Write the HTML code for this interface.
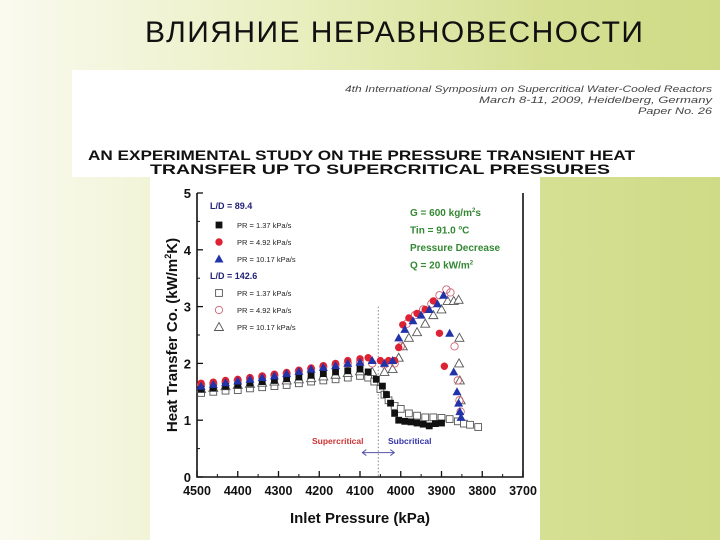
<!DOCTYPE html>
<html><head><meta charset="utf-8">
<style>
body{margin:0;width:720px;height:540px;overflow:hidden;position:relative;font-family:"Liberation Sans",sans-serif;background:linear-gradient(90deg,#fafaf0 0%,#e9efc0 40%,#d6e094 75%,#cfdb86 100%);}
#title{position:absolute;left:145px;top:16px;font-size:30px;color:#111;letter-spacing:1.45px;}
#hdr{position:absolute;left:72px;top:70px;width:648px;height:107px;background:#fff;}
#chartbox{position:absolute;left:150px;top:177px;width:390px;height:363px;background:#fff;}
</style></head><body>
<div id="title">ВЛИЯНИЕ НЕРАВНОВЕСНОСТИ</div>
<div id="hdr"></div>
<svg width="720" height="180" style="position:absolute;left:0;top:0" font-family="Liberation Sans, sans-serif">
<text x="712" y="92" text-anchor="end" font-size="9.5" font-style="italic" fill="#444" textLength="367" lengthAdjust="spacingAndGlyphs">4th International Symposium on Supercritical Water-Cooled Reactors</text>
<text x="712" y="103" text-anchor="end" font-size="9.5" font-style="italic" fill="#444" textLength="233" lengthAdjust="spacingAndGlyphs">March 8-11, 2009, Heidelberg, Germany</text>
<text x="712" y="114" text-anchor="end" font-size="9.5" font-style="italic" fill="#444" textLength="74" lengthAdjust="spacingAndGlyphs">Paper No. 26</text>
<text x="88" y="160" font-size="14" font-weight="bold" fill="#111" textLength="547" lengthAdjust="spacingAndGlyphs">AN EXPERIMENTAL STUDY ON THE PRESSURE TRANSIENT HEAT</text>
<text x="150" y="174" font-size="14" font-weight="bold" fill="#111" textLength="460" lengthAdjust="spacingAndGlyphs">TRANSFER UP TO SUPERCRITICAL PRESSURES</text>
</svg>
<div id="chartbox"></div>
<svg id="chart" width="720" height="540" style="position:absolute;left:0;top:0" font-family="Liberation Sans, sans-serif"></svg>
<script>
const xTicks=[4500,4400,4300,4200,4100,4000,3900,3800,3700];
const yTicks=[0,1,2,3,4,5];
const aX=[4490,4460,4430,4400,4370,4340,4310,4280,4250,4220,4190,4160,4130,4100,4080,4060,4045,4035,4025,4015,4005,3990,3975,3960,3945,3930,3915,3900];
const aY=[1.55,1.57,1.6,1.62,1.65,1.68,1.7,1.73,1.76,1.79,1.82,1.85,1.87,1.9,1.85,1.72,1.6,1.45,1.3,1.12,1.0,0.98,0.97,0.95,0.93,0.9,0.94,0.95];
const bX=[4490,4460,4430,4400,4370,4340,4310,4280,4250,4220,4190,4160,4130,4100,4080,4050,4030,4015,4005,3995,3980,3960,3940,3920,3905,3893];
const bY=[1.65,1.67,1.7,1.72,1.75,1.78,1.81,1.84,1.88,1.92,1.96,2.0,2.05,2.08,2.1,2.05,2.05,2.05,2.28,2.68,2.8,2.88,2.95,3.1,2.53,1.95];
const cX=[4490,4460,4430,4400,4370,4340,4310,4280,4250,4220,4190,4160,4130,4100,4070,4040,4020,4005,3990,3970,3950,3930,3910,3895,3880,3870,3862,3858,3855,3852];
const cY=[1.6,1.63,1.66,1.69,1.72,1.75,1.78,1.82,1.86,1.9,1.93,1.96,2.0,2.02,2.05,2.0,2.05,2.45,2.6,2.75,2.85,2.95,3.05,3.2,2.53,1.85,1.5,1.3,1.15,1.05];
const dX=[4490,4460,4430,4400,4370,4340,4310,4280,4250,4220,4190,4160,4130,4100,4080,4065,4050,4040,4030,4015,4000,3980,3960,3940,3920,3900,3880,3860,3845,3830,3810];
const dY=[1.48,1.5,1.52,1.53,1.56,1.58,1.6,1.62,1.65,1.68,1.7,1.72,1.75,1.78,1.75,1.68,1.55,1.45,1.35,1.25,1.2,1.12,1.08,1.05,1.05,1.04,1.02,0.98,0.94,0.92,0.88];
const eX=[4490,4460,4430,4400,4370,4340,4310,4280,4250,4220,4190,4160,4130,4100,4070,4040,4015,4000,3985,3965,3945,3925,3905,3888,3878,3868,3860,3856,3853];
const eY=[1.62,1.64,1.67,1.7,1.73,1.76,1.79,1.82,1.86,1.9,1.94,1.97,2.0,2.02,2.0,1.98,2.0,2.3,2.7,2.85,2.95,3.05,3.2,3.3,3.25,2.3,1.7,1.35,1.15];
const fX=[4490,4460,4430,4400,4370,4340,4310,4280,4250,4220,4190,4160,4130,4100,4070,4040,4020,4005,3995,3980,3960,3940,3920,3900,3885,3870,3858,3856,3857,3855,3853];
const fY=[1.55,1.57,1.6,1.62,1.64,1.66,1.68,1.7,1.72,1.74,1.77,1.8,1.83,1.86,1.85,1.85,1.9,2.1,2.3,2.45,2.55,2.7,2.85,2.95,3.1,3.1,3.12,2.45,2.0,1.7,1.35];
const svg=document.getElementById('chart');
const NS='http://www.w3.org/2000/svg';
const L=197,R=523,T=193,B=477;
const sx=v=>L+(4500-v)/800*(R-L);
const sy=v=>B-v/5*(B-T);
function mk(t,a,p){const e=document.createElementNS(NS,t);for(const k in a)e.setAttribute(k,a[k]);(p||svg).appendChild(e);return e;}
let ax=mk('path',{d:`M${L},${T}V${B}H${R}V${T}`,fill:'none',stroke:'#111','stroke-width':1.6});


xTicks.forEach(v=>{
 let t=mk('line',{x1:sx(v),x2:sx(v),y1:B,y2:B-6,stroke:'#111','stroke-width':1.3});
 
 
 if(v!==3700)mk('line',{x1:sx(v-50),x2:sx(v-50),y1:B,y2:B-3,stroke:'#111'});
 let l=mk('text',{x:sx(v),y:B+18,'text-anchor':'middle','font-size':12.5,'font-weight':'bold',fill:'#111'});
 l.textContent=v;
 
 
});
yTicks.forEach(v=>{
 let t=mk('line',{x1:L,x2:L+6,y1:sy(v),y2:sy(v),stroke:'#111','stroke-width':1.3});
 
 
 if(v<5)mk('line',{x1:L,x2:L+3,y1:sy(v+0.5),y2:sy(v+0.5),stroke:'#111'});
 let l=mk('text',{x:L-6,y:sy(v)+5,'text-anchor':'end','font-size':13,'font-weight':'bold',fill:'#111'});
 l.textContent=v;
 
 
});
let xt=mk('text',{x:360,y:523,'text-anchor':'middle','font-size':15,'font-weight':'bold',fill:'#111'});
xt.textContent='Inlet Pressure (kPa)';


let yt=mk('text',{x:0,y:0,'text-anchor':'middle','font-size':15,'font-weight':'bold',fill:'#111',transform:`translate(177,335) rotate(-90)`});
yt.innerHTML='Heat Transfer Co. (kW/m<tspan font-size="9" dy="-6">2</tspan><tspan dy="6">K)</tspan>';


let dl=mk('line',{x1:sx(4055),x2:sx(4055),y1:sy(3.0),y2:B,stroke:'#999','stroke-dasharray':'1.5,2','stroke-width':1.2});


let ar=mk('path',{d:`M${sx(4055)-16},${sy(0.43)}H${sx(4055)+16}M${sx(4055)-12},${sy(0.43)-3}l-4,3l4,3M${sx(4055)+12},${sy(0.43)-3}l4,3l-4,3`,stroke:'#5555aa',fill:'none'});


[['Supercritical',312,'#cc3333','supercritical-label'],['Subcritical',388,'#3333aa','subcritical-label']].forEach(s=>{let t=mk('text',{x:s[1],y:444,'font-size':8.5,'font-weight':'bold',fill:s[2]});t.textContent=s[0];

});
function marker(type,x,y,p){
 const s=3.4;
 if(type==='sq')return mk('rect',{x:x-s,y:y-s,width:2*s,height:2*s,fill:'#111'},p);
 if(type==='osq')return mk('rect',{x:x-s,y:y-s,width:2*s,height:2*s,fill:'#fff',stroke:'#555','stroke-width':0.9},p);
 if(type==='ci')return mk('circle',{cx:x,cy:y,r:3.7,fill:'#dd2233'},p);
 if(type==='oci')return mk('circle',{cx:x,cy:y,r:3.7,fill:'none',stroke:'#cc6677','stroke-width':0.9},p);
 if(type==='tr')return mk('path',{d:`M${x},${y-4.5}L${x+4.5},${y+3.5}H${x-4.5}Z`,fill:'#2233aa'},p);
 return mk('path',{d:`M${x},${y-4.5}L${x+4.5},${y+3.5}H${x-4.5}Z`,fill:'#fff',stroke:'#555','stroke-width':0.9},p);
}
const series=[['osq',dX,dY,'series-ld142-pr137'],['otr',fX,fY,'series-ld142-pr1017'],['oci',eX,eY,'series-ld142-pr492'],['sq',aX,aY,'series-ld89-pr137'],['ci',bX,bY,'series-ld89-pr492'],['tr',cX,cY,'series-ld89-pr1017']];
series.forEach(s=>{
 const g=mk('g',{});
 
 
 s[1].forEach((xv,i)=>{const m=marker(s[0],sx(xv),sy(s[2][i]),g);
 
 });
});
const leg=mk('g',{});


const legItems=[['h','L/D = 89.4',210,206],['sq','PR = 1.37 kPa/s',233,225],['ci','PR = 4.92 kPa/s',233,242],['tr','PR = 10.17 kPa/s',233,259],['h','L/D = 142.6',210,276],['osq','PR = 1.37 kPa/s',233,293],['oci','PR = 4.92 kPa/s',233,310],['otr','PR = 10.17 kPa/s',233,327]];
legItems.forEach(it=>{
 if(it[0]==='h'){let t=mk('text',{x:it[2],y:it[3]+3,'font-size':9,'font-weight':'bold',fill:'#222277'},leg);t.textContent=it[1];
 
 }
 else{marker(it[0],219,it[3],leg);let t=mk('text',{x:it[2]+4,y:it[3]+3,'font-size':7.5,fill:'#222'},leg);t.textContent=it[1];
 
 }
});
const cond=['G = 600 kg/m<tspan font-size="6" dy="-4">2</tspan><tspan dy="4">s</tspan>','Tin = 91.0 <tspan font-size="6" dy="-4">o</tspan><tspan dy="4">C</tspan>','Pressure Decrease','Q = 20 kW/m<tspan font-size="6" dy="-4">2</tspan>'];
cond.forEach((c,i)=>{let t=mk('text',{x:410,y:216+i*17.5,'font-size':10,'font-weight':'bold',fill:'#338833'});t.innerHTML=c;

});
</script>
</body></html>
